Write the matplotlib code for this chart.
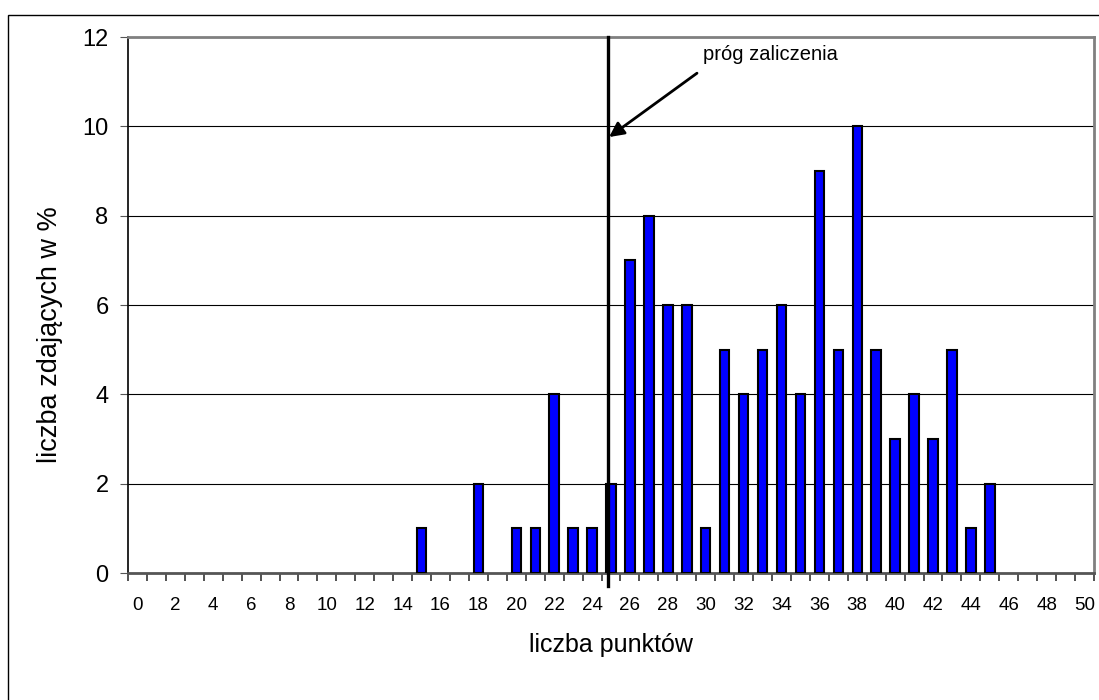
import matplotlib
matplotlib.use("Agg")
import matplotlib.pyplot as plt
from matplotlib.patches import Rectangle
import numpy as np

plt.rcParams['font.family'] = ['Liberation Sans', 'DejaVu Sans']

# punkty 0..50 i procent zdających
points = list(range(0, 51))
percent_nonzero = {15: 1, 18: 2, 20: 1, 21: 1, 22: 4, 23: 1, 24: 1, 25: 2,
                   26: 7, 27: 8, 28: 6, 29: 6, 30: 1, 31: 5, 32: 4, 33: 5,
                   34: 6, 35: 4, 36: 9, 37: 5, 38: 10, 39: 5, 40: 3, 41: 4,
                   42: 3, 43: 5, 44: 1, 45: 2}
percent = [percent_nonzero.get(p, 0) for p in points]
xtick_labels = [str(p) if p % 2 == 0 else '' for p in points]
y_ticks = [0, 2, 4, 6, 8, 10, 12]
threshold = 24.83
threshold_label = 'próg zaliczenia'

W, H = 1099, 700
fig = plt.figure(figsize=(W / 100, H / 100), dpi=100)

# outer frame (cropped on right/bottom)
fig.patches.append(Rectangle((8 / W, -0.1), 1.2, (H - 15) / H + 0.1,
                             transform=fig.transFigure, fill=False,
                             edgecolor='black', linewidth=1.0))

left, right, top, bottom = 128, 1094, 37, 573
ax = fig.add_axes([left / W, (H - bottom) / H, (right - left) / W, (bottom - top) / H])

xs = [p for p, v in zip(points, percent) if v > 0]
vs = [v for v in percent if v > 0]
ax.bar(xs, vs, width=0.5, color='#0000ff', edgecolor='black',
       linewidth=1.5, zorder=3)

ax.set_xlim(-0.5, 50.5)
ax.set_ylim(0, 12)
ax.set_yticks(y_ticks)
ax.yaxis.grid(True, color='black', linewidth=0.8, zorder=0)
ax.tick_params(axis='y', labelsize=17, length=6, width=0.8, color='#555555', pad=8)

ax.set_xticks(points)
ax.set_xticklabels(xtick_labels)
ax.set_xticks(np.arange(-0.5, 51, 1), minor=True)
ax.tick_params(axis='x', which='major', length=0, labelsize=13.5, pad=17)
ax.tick_params(axis='x', which='minor', length=6, width=1.2, color='#333333')

for s in ['top', 'right']:
    ax.spines[s].set_color('#808080')
    ax.spines[s].set_linewidth(2)
ax.spines['bottom'].set_color('#555555')
ax.spines['bottom'].set_linewidth(2)
ax.spines['left'].set_color('black')
ax.spines['left'].set_linewidth(1.2)

ax.set_xlabel('liczba punktów', fontsize=18)
ax.xaxis.set_label_coords(0.5, -(645 - bottom) / (bottom - top))
ax.set_ylabel('liczba zdających w %', fontsize=19.5)
ax.yaxis.set_label_coords(-(128 - 50) / (right - left), (bottom - 335) / (bottom - top))
ax.xaxis.label.set_va('center')
ax.yaxis.label.set_va('center')

# threshold line
ax.plot([threshold, threshold], [-0.3, 12], color='black', linewidth=2.4,
        clip_on=False, zorder=4)
ax.annotate('', xy=(24.9, 9.76), xytext=(29.54, 11.19),
            arrowprops=dict(arrowstyle='-|>', color='black', lw=2,
                            mutation_scale=22, shrinkA=0, shrinkB=0))
ax.text(29.86, 11.6, threshold_label, fontsize=14.5, ha='left', va='center')

fig.savefig('out.png', dpi=100)
